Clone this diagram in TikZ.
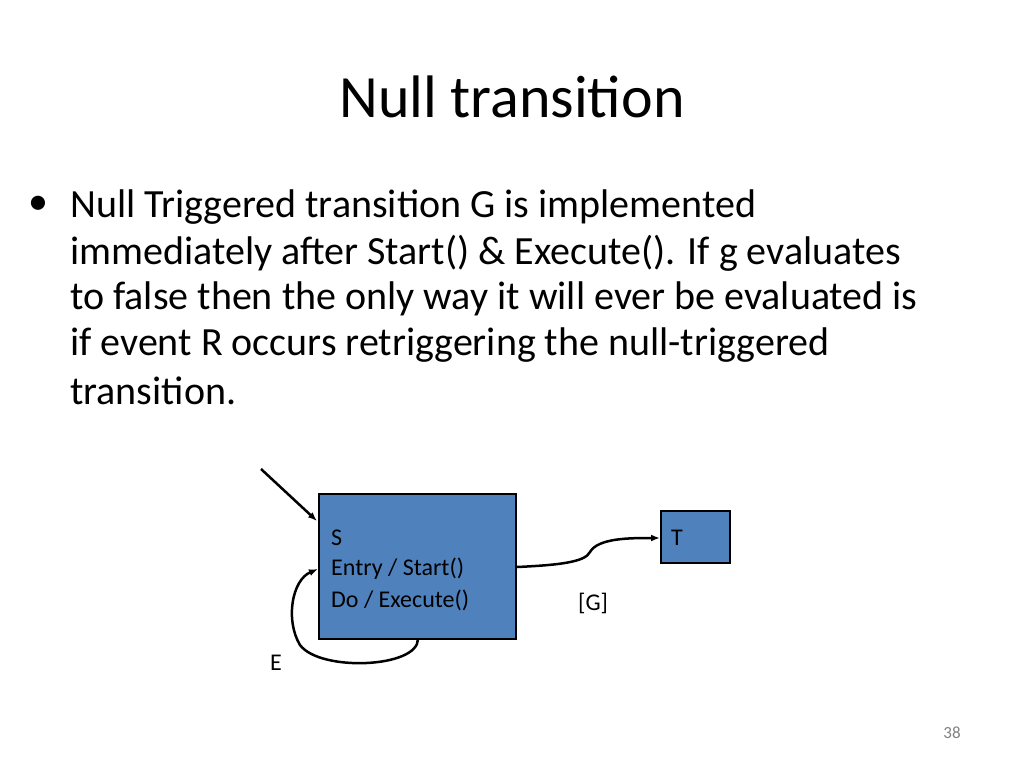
\documentclass[tikz,border=0pt]{standalone}
\usepackage{fontspec}
\setmainfont{Carlito}
\usetikzlibrary{arrows.meta}
\definecolor{stblue}{HTML}{4F81BD}
\begin{document}
\begin{tikzpicture}[x=1pt,y=-1pt,
  body/.style={anchor=west,inner sep=0pt,font=\fontsize{40}{46}\selectfont},
  state/.style={draw=black,line width=2.5pt,fill=stblue},
  lbl/.style={anchor=west,inner sep=0pt,font=\fontsize{24}{30}\selectfont},
  conn/.style={line width=2.5pt,-{Latex[length=9pt,width=7pt]}}]
\useasboundingbox (0,0) rectangle (1024,768);
\node[inner sep=0pt,font=\fontsize{60}{70}\selectfont] (title) at (512,97) {Null transition};
\node[inner sep=0pt,anchor=west,font=\fontsize{40}{46}\selectfont] (bul) at (28,205) {•};
\node[body] (l1) at (70,207) {Null Triggered transition G is implemented};
\node[body] (l2) at (70,253) {immediately after Start() \& Execute(). If g evaluates};
\node[body] (l3) at (70,299) {to false then the only way it will ever be evaluated is};
\node[body] (l4) at (70,345) {if event R occurs retriggering the null-triggered};
\node[body] (l5) at (70,391) {transition.};
\draw[state] (319,494) rectangle (516,639);
\coordinate (S) at (417.5,566.5);
\draw[state] (661,511) rectangle (730,563);
\node[lbl] (sS) at (331,538) {S};
\node[lbl] (sE) at (331,569) {Entry / Start()};
\node[lbl] (sD) at (331,600) {Do / Execute()};
\node[lbl] (tT) at (671,538) {T};
\node[lbl] (g) at (578,603) {[G]};
\node[lbl] (e) at (270,663) {E};
\node[inner sep=0pt,text=gray,font=\fontsize{17}{20}\selectfont] (pg) at (952,733) {38};
\coordinate (i0) at (261,469);
\coordinate (i1) at (317,521);
\draw[conn] (i0) -- (i1);
\coordinate (g0) at (517,567);
\coordinate (g1) at (660,538);
\draw[conn] (g0) .. controls (560,565) and (585,562) .. (590,552)
  .. controls (598,538) and (630,538) .. (g1);
\coordinate (e0) at (418,639);
\coordinate (e1) at (318,569);
\draw[conn] (e0) .. controls (418,668) and (320,672) .. (300,645)
  .. controls (285,620) and (292,580) .. (e1);
\end{tikzpicture}
\end{document}
